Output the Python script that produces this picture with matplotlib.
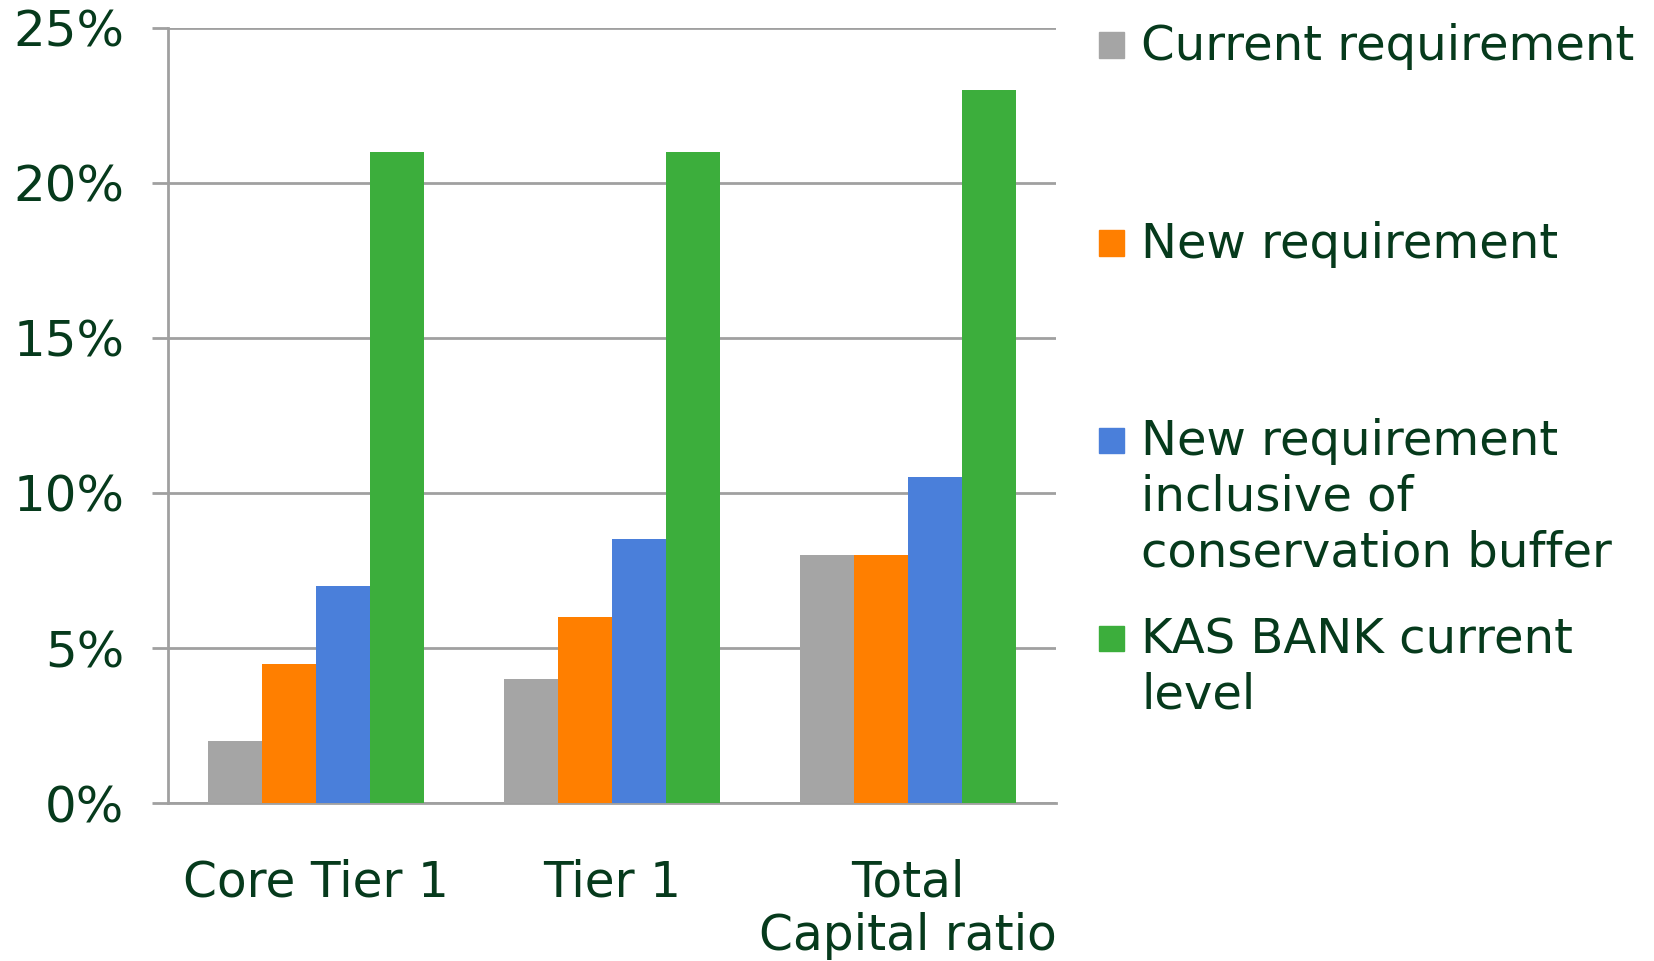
import numpy as np
import matplotlib
matplotlib.use("Agg")
import matplotlib.pyplot as plt
from matplotlib.patches import Rectangle

categories = ["Core Tier 1", "Tier 1", "Total\nCapital ratio"]
series_names = ["Current requirement", "New requirement",
                "New requirement\ninclusive of\nconservation buffer",
                "KAS BANK current\nlevel"]
current_req = [2.0, 4.0, 8.0]
new_req = [4.5, 6.0, 8.0]
new_req_buffer = [7.0, 8.5, 10.5]
kas_bank = [21.0, 21.0, 23.0]
series_colors = ["#A5A5A5", "#FF7F00", "#4A7FDA", "#3CAE3C"]
yticks = [0, 5, 10, 15, 20, 25]

text_color = "#063A1C"
grid_color = "#A0A0A0"

plt.rcParams['font.family'] = ['DejaVu Sans']

fig = plt.figure(figsize=(16.54, 9.61), dpi=100)
ax = fig.add_axes([0.1016, 0.1644, 0.5369, 0.8065])

values = [current_req, new_req, new_req_buffer, kas_bank]
x = np.arange(len(categories))
bw = 0.182
for i, vals in enumerate(values):
    ax.bar(x + (i - 1.5) * bw, vals, width=bw, color=series_colors[i], zorder=3)

ax.set_xlim(-0.5, len(categories) - 0.5)
ax.set_ylim(0, 25)
ax.set_yticks(yticks)
ax.set_yticklabels([f"{t}%" for t in yticks], fontsize=36, color=text_color)
ax.yaxis.grid(True, color=grid_color, linewidth=2, zorder=0)
ax.tick_params(axis='y', length=11.5, width=2, color=grid_color, pad=20)
ax.set_xticks(x)
ax.set_xticklabels(categories, fontsize=35, color=text_color, linespacing=1.15)
ax.tick_params(axis='x', length=0, pad=40)

for s in ["top", "right"]:
    ax.spines[s].set_visible(False)
for s in ["left", "bottom"]:
    ax.spines[s].set_color(grid_color)
    ax.spines[s].set_linewidth(2)

# manual legend on the right
W, H = 1654, 961
entry_y = [45, 243, 440, 638]
for name, col, yc in zip(series_names, series_colors, entry_y):
    sq = 25
    fig.add_artist(Rectangle(((1099) / W, (H - yc - sq / 2) / H), sq / W, sq / H,
                             transform=fig.transFigure, color=col))
    fig.text(1141 / W, (H - yc + 22) / H, name, fontsize=34.7, color=text_color,
             ha="left", va="top", linespacing=1.24)

fig.savefig("out.png", dpi=100)
